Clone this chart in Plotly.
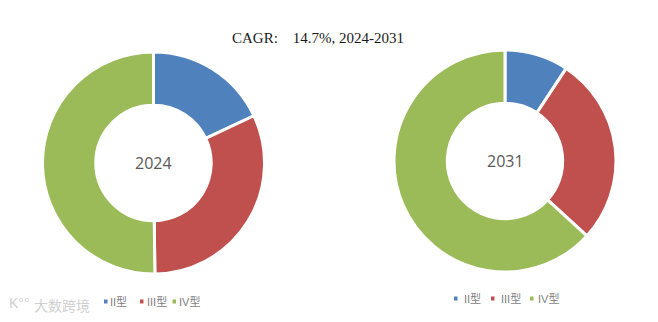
import plotly.graph_objects as go

# Share by type (%), 2024 and 2031
types = ["II型", "III型", "IV型"]
share_2024 = [18.0, 31.8, 50.2]
share_2031 = [9.3, 27.5, 63.2]
years = ["2024", "2031"]
colors = ["#4F81BD", "#C0504D", "#9BBB59"]
title_text = "CAGR:\u00a0\u00a0\u00a0\u00a014.7%, 2024-2031"

W, H = 658, 322


def px(x):
    return x / W


def py(y):
    return 1 - y / H


fig = go.Figure()

domains = [
    dict(x=[px(42), px(265)], y=[py(274), py(52)]),
    dict(x=[px(394), px(616)], y=[py(272), py(50)]),
]
centers = [(153.5, 163), (505, 161)]

for vals, dom in zip([share_2024, share_2031], domains):
    fig.add_trace(go.Pie(
        labels=types,
        values=vals,
        hole=0.52,
        sort=False,
        direction="clockwise",
        rotation=0,
        marker=dict(colors=colors, line=dict(color="white", width=3)),
        textinfo="none",
        hoverinfo="label+percent",
        showlegend=False,
        domain=dom,
    ))

annotations = []
shapes = []

# year labels in the donut holes
for yr, (cx, cy) in zip(years, centers):
    annotations.append(dict(
        x=px(cx), y=py(cy), xref="paper", yref="paper", text=yr,
        showarrow=False, xanchor="center", yanchor="middle",
        font=dict(family="Open Sans, Liberation Sans, sans-serif", size=16, color="#595959"),
    ))

# title
annotations.append(dict(
    x=px(318), y=py(38), xref="paper", yref="paper", text=title_text,
    showarrow=False, xanchor="center", yanchor="middle",
    font=dict(family="Liberation Serif, DejaVu Serif, serif", size=15, color="#1a1a1a"),
))

# legends drawn under each donut
legend_layouts = [
    dict(y=301.5, squares=[104, 140, 172.5], texts=[108, 145, 177]),
    dict(y=298.5, squares=[454, 491, 530], texts=[462, 499, 536]),
]
for lg in legend_layouts:
    for lab, col, sx, tx in zip(types, colors, lg["squares"], lg["texts"]):
        shapes.append(dict(
            type="rect", xref="paper", yref="paper",
            x0=px(sx), x1=px(sx + 3.5), y0=py(lg["y"] + 2), y1=py(lg["y"] - 2),
            fillcolor=col, line=dict(width=0),
        ))
        annotations.append(dict(
            x=px(tx), y=py(lg["y"]), xref="paper", yref="paper", text=lab,
            showarrow=False, xanchor="left", yanchor="middle",
            font=dict(family="Liberation Sans, Noto Sans CJK SC, sans-serif", size=11, color="#7f7f7f"),
        ))

# faint brand mark in the corner
annotations.append(dict(
    x=px(32), y=py(305), xref="paper", yref="paper", text="大数跨境",
    showarrow=False, xanchor="left", yanchor="middle",
    font=dict(family="Noto Sans CJK SC, sans-serif", size=14, color="#d0d0d0"),
))
annotations.append(dict(
    x=px(7), y=py(303), xref="paper", yref="paper", text="K°°",
    showarrow=False, xanchor="left", yanchor="middle",
    font=dict(family="Liberation Sans, sans-serif", size=14, color="#d0d0d0"),
))

fig.update_layout(
    width=W, height=H,
    margin=dict(l=0, r=0, t=0, b=0),
    paper_bgcolor="white",
    plot_bgcolor="white",
    annotations=annotations,
    shapes=shapes,
    showlegend=False,
)

fig.write_html("out.html")
